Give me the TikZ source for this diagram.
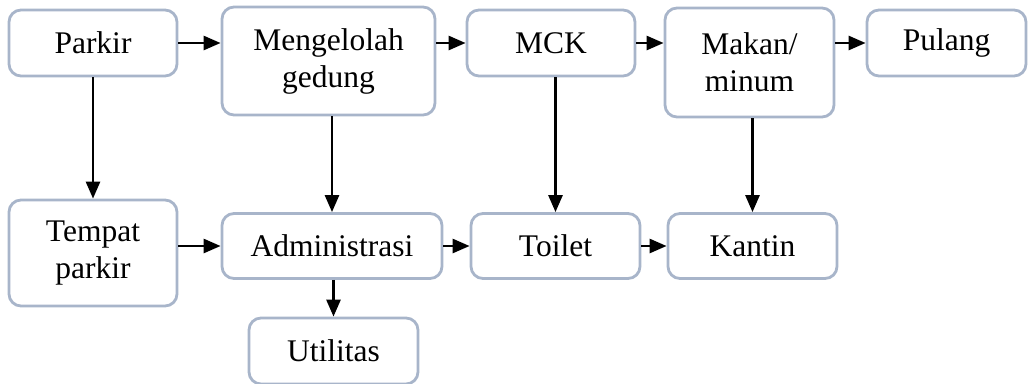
\documentclass[tikz,border=0pt]{standalone}
\usepackage{fontspec}
\setmainfont{Liberation Serif}
\usetikzlibrary{arrows.meta}
\definecolor{garisblok}{RGB}{168,181,202}
\tikzset{
  blok/.style={draw=garisblok, line width=2.8pt, rounded corners=12pt, fill=white,
    align=center, inner sep=0pt, font=\fontsize{31.5}{37}\selectfont},
  panah/.style={-{Triangle[length=17pt,width=14pt]}, line width=2.7pt},
}

\begin{document}
\begin{tikzpicture}[x=1pt, y=-1pt]
    \useasboundingbox (0,0) rectangle (1028,383);
    % baris atas
    \node[blok, minimum width=168pt, minimum height=66pt] (parkir) at (93,43) {Parkir};
    \node[blok, minimum width=213pt, minimum height=108pt] (gedung) at (328.5,61) {Mengelolah\\gedung};
    \node[blok, minimum width=168pt, minimum height=66pt] (mck) at (551,43) {MCK};
    \node[blok, minimum width=169pt, minimum height=109pt] (makan) at (749.5,62.5) {Makan/\\minum};
    \node[blok, minimum width=159pt, minimum height=66pt] (pulang) at (946.5,43) {Pulang};
    % baris bawah
    \node[blok, minimum width=168pt, minimum height=106pt] (tempat) at (93,253) {Tempat\\parkir};
    \node[blok, minimum width=220pt, minimum height=65pt] (admin) at (332,246) {Administrasi};
    \node[blok, minimum width=169pt, minimum height=65pt] (toilet) at (555.5,246) {Toilet};
    \node[blok, minimum width=169pt, minimum height=65pt] (kantin) at (752.5,246) {Kantin};
    \node[blok, minimum width=169pt, minimum height=66pt] (utilitas) at (333.5,351) {Utilitas};
    % panah mendatar
    \draw[panah] (parkir) -- (parkir -| gedung.west);
    \draw[panah] (gedung.east |- mck) -- (mck);
    \draw[panah] (mck) -- (makan.west |- mck);
    \draw[panah] (makan.east |- pulang) -- (pulang);
    \draw[panah] (tempat.east |- admin) -- (admin);
    \draw[panah] (admin) -- (toilet);
    \draw[panah] (toilet) -- (kantin);
    % panah tegak
    \draw[panah] (parkir) -- (tempat);
    \draw[panah] (gedung.south -| admin) -- (admin);
    \draw[panah] (mck.south -| toilet) -- (toilet);
    \draw[panah] (makan.south -| kantin) -- (kantin);
    \draw[panah] (admin.south -| utilitas) -- (utilitas);
\end{tikzpicture}
\end{document}
